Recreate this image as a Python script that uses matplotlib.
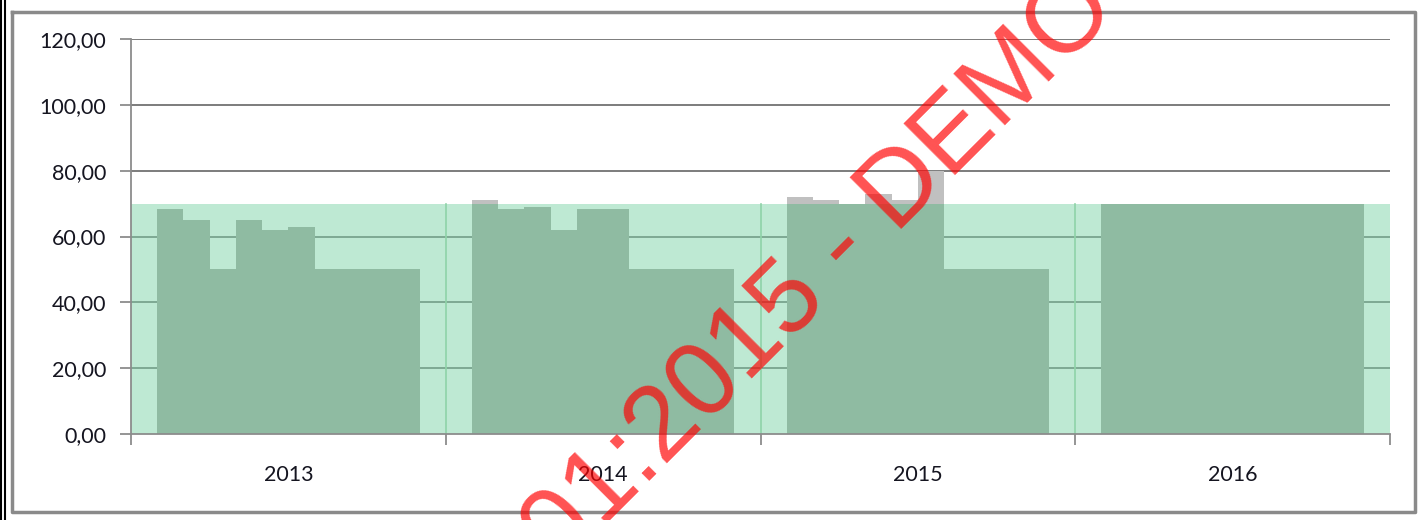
import matplotlib
matplotlib.use("Agg")
import matplotlib.pyplot as plt
from matplotlib.lines import Line2D
import numpy as np

# monthly values per year (10 bars each)
years = ["2013", "2014", "2015", "2016"]
values = [
    [68.3, 65, 50, 65, 62, 63, 50, 50, 50, 50],
    [71, 68.3, 69, 62, 68.3, 68.3, 50, 50, 50, 50],
    [72, 71, 70, 73, 71, 80, 50, 50, 50, 50],
    [70, 70, 70, 70, 70, 70, 70, 70, 70, 70],
]
target = [70, 70, 70, 70]
yticks = [0, 20, 40, 60, 80, 100, 120]

LIGHT = (127 / 255, 213 / 255, 169 / 255)
DARK = "#8fbba2"
GREY = "#c0c0c0"
AXC = "#8c8c8c"
TXT = "#151520"

plt.rcParams["font.family"] = ["Lato", "DejaVu Sans"]

fig = plt.figure(figsize=(14.24, 5.2), dpi=100)
ax = fig.add_axes([131 / 1424, 1 - 434 / 520, (1390 - 131) / 1424, (434 - 39) / 520])

# target band, one wide bar per year
for i, t in enumerate(target):
    ax.bar(i + 0.5, t, width=1.0, color=LIGHT, alpha=0.5, lw=0, zorder=2)
    if i > 0:
        ax.plot([i, i], [0, t], color="#8fd3a8", lw=1.2, zorder=2.1)

for y in yticks[1:]:
    ax.axhline(y, color="#7c7c7c", lw=1.4, zorder=1)

# actual (grey) and capped (green) month bars
n = len(values[0])
for i, row in enumerate(values):
    xs = [i + (j + 1.5) / 12 for j in range(n)]
    ax.bar(xs, row, width=1 / 12, color=GREY, lw=0, zorder=3)
    capped = np.minimum(row, target[i])
    ax.bar(xs, capped, width=1 / 12, color=DARK, lw=0, zorder=4)

ax.set_xlim(0, len(years))
ax.set_ylim(0, 120)
ax.set_yticks(yticks)
ax.set_yticklabels([f"{v:.2f}".replace(".", ",") for v in yticks])
ax.set_xticks(range(len(years) + 1))
ax.set_xticklabels([])
ax.set_xticks([i + 0.5 for i in range(len(years))], minor=True)
ax.set_xticklabels(years, minor=True)
ax.tick_params(axis="x", which="major", direction="out", length=8, width=1.3, color=AXC)
ax.tick_params(axis="x", which="minor", length=0, pad=22, labelsize=15.5, labelcolor=TXT)
ax.tick_params(axis="y", direction="out", length=8, width=1.3, color=AXC, pad=10,
               labelsize=15.5, labelcolor=TXT)
for s in ["top", "right"]:
    ax.spines[s].set_visible(False)
for s in ["left", "bottom"]:
    ax.spines[s].set_color(AXC)
    ax.spines[s].set_linewidth(1.3)
    ax.spines[s].set_zorder(5)

# chart frame
W, H = 1424, 520
frame = [(12, 12), (1415, 12), (1415, 512), (12, 512), (12, 12)]
fig.add_artist(Line2D([p[0] / W for p in frame], [1 - p[1] / H for p in frame],
                      color="#8a8a8a", lw=2.5, transform=fig.transFigure))
for x in (1, 4.5):
    fig.add_artist(Line2D([x / W, x / W], [0, 1], color="black", lw=1.5,
                          transform=fig.transFigure))

# demo watermark
fig.text(560 / W, 1 - 570 / H, "01:2015 - DEMO", rotation=45, rotation_mode="anchor",
         ha="left", va="baseline", fontsize=76, color="red", alpha=0.68,
         family=["Liberation Sans", "DejaVu Sans"], zorder=10)

fig.savefig("out.png", dpi=100)
